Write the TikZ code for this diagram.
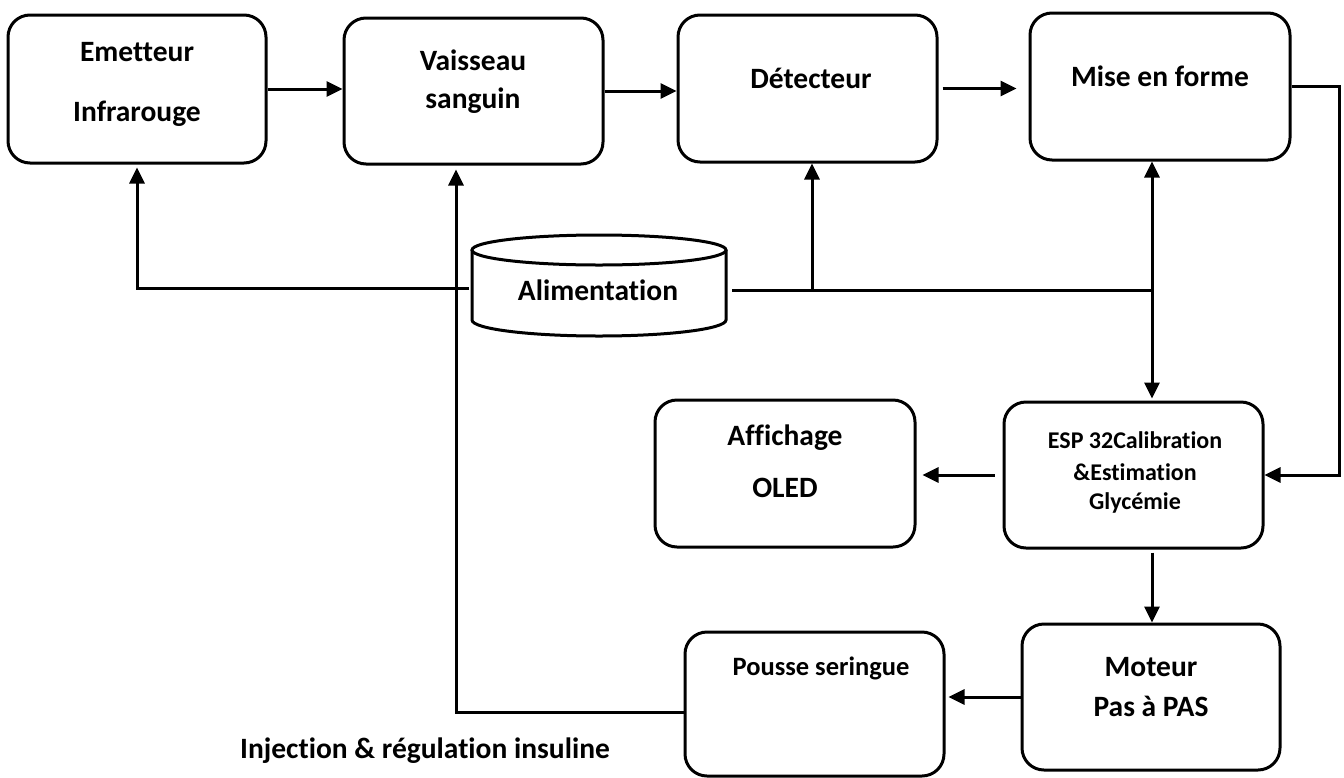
\documentclass[tikz,border=0pt]{standalone}
\usepackage{fontspec}
\setmainfont{Carlito}[Ligatures={TeX,NoCommon}]
\usetikzlibrary{arrows.meta}
\begin{document}
\begin{tikzpicture}[x=1pt,y=-1pt,
  box/.style={draw,line width=3pt,rounded corners=22pt,inner sep=0pt},
  lbl/.style={font=\fontsize{29.5}{33}\selectfont\bfseries,inner sep=0pt,text height=0.64em,text depth=0pt},
  lbls/.style={font=\fontsize{24}{28}\selectfont\bfseries,inner sep=0pt,text height=0.64em,text depth=0pt},
  lblm/.style={font=\fontsize{26.5}{30}\selectfont\bfseries,inner sep=0pt,text height=0.64em,text depth=0pt},
  arr/.style={line width=3pt,-{Triangle[length=16pt,width=15pt]}},
  ln/.style={line width=3pt}]
\useasboundingbox (0,0) rectangle (1344,777);

% boxes
\node[box,minimum width=258pt,minimum height=148pt] (b1) at (137,89) {};
\node[box,minimum width=259pt,minimum height=146pt] (b2) at (473.5,91) {};
\node[box,minimum width=259pt,minimum height=147pt] (b3) at (807.5,88.5) {};
\node[box,minimum width=260pt,minimum height=147pt] (b4) at (1160,86.5) {};
\node[box,minimum width=260pt,minimum height=147pt] (aff) at (785,473.5) {};
\node[box,minimum width=259pt,minimum height=146pt] (esp) at (1133.5,475) {};
\node[box,minimum width=258pt,minimum height=146pt] (mot) at (1151,697) {};
\node[box,minimum width=259pt,minimum height=144pt] (pous) at (814.5,704) {};

% cylinder
\draw[ln] (472,250) -- (472,320) arc[start angle=180,end angle=360,x radius=127pt,y radius=16pt] -- (726,250);
\draw[ln] (599,250) ellipse[x radius=127pt,y radius=15pt];
\node[lbl] (alim) at (598,297) {Alimentation};

% texts
\node[lbl] (t1a) at (137,58) {Emetteur};
\node[lbl] (t1b) at (137,118) {Infrarouge};
\node[lbl] (t2a) at (473,67) {Vaisseau};
\node[lbl] (t2b) at (473,105) {sanguin};
\node[lbl] (t3) at (811,85) {Détecteur};
\node[lbl] (t4) at (1160,83) {Mise en forme};
\node[lbl] (t5a) at (785,442) {Affichage};
\node[lbl] (t5b) at (785,494) {OLED};
\node[lbls] (t6a) at (1135,445) {ESP 32Calibration};
\node[lbls] (t6b) at (1135,477) {\&Estimation};
\node[lbls] (t6c) at (1135,506) {Glycémie};
\node[lbl] (t7a) at (1151,673) {Moteur};
\node[lbl] (t7b) at (1151,713) {Pas à PAS};
\node[lblm] (t8) at (821,672) {Pousse seringue};
\node[lbl] (t9) at (425,755) {Injection \& régulation insuline};

% junction coordinates
\coordinate (aw) at (469,288);
\coordinate (ae) at (732,290);
\coordinate (j1) at (812,290);
\coordinate (j2) at (1152,290);
\coordinate (rc) at (1339,0);
\coordinate (pv) at (456,712);

% top chain
\draw[arr] (b1.east) -- (b2.west |- b1.east);
\draw[arr] (b2.east) -- (b3.west |- b2.east);
\draw[arr,shorten <=4pt,shorten >=12pt] (b3.east) -- (b4.west |- b3.east);
\draw[arr] (b4.east) -- (b4.east -| rc) |- (esp.east);

% power distribution
\draw[arr,shorten >=3pt] (aw) -| (b1.south);
\draw[ln] (ae) -- (j2);
\draw[arr] (j1) -- (j1 |- b3.south);
\draw[arr] (j2) -- (j2 |- b4.south);
\draw[arr,shorten >=2pt] (j2) -- (j2 |- esp.north);

% lower part
\draw[arr,shorten <=8pt,shorten >=6pt] (esp.west) -- (aff.east |- esp.west);
\draw[arr,shorten <=3pt] (esp.south -| j2) -- (mot.north -| j2);
\draw[arr,shorten >=3pt] (mot.west) -- (pous.east |- mot.west);
\draw[arr,shorten >=4pt] (pous.west |- pv) -- (pv) -- (pv |- b2.south);
\end{tikzpicture}
\end{document}
